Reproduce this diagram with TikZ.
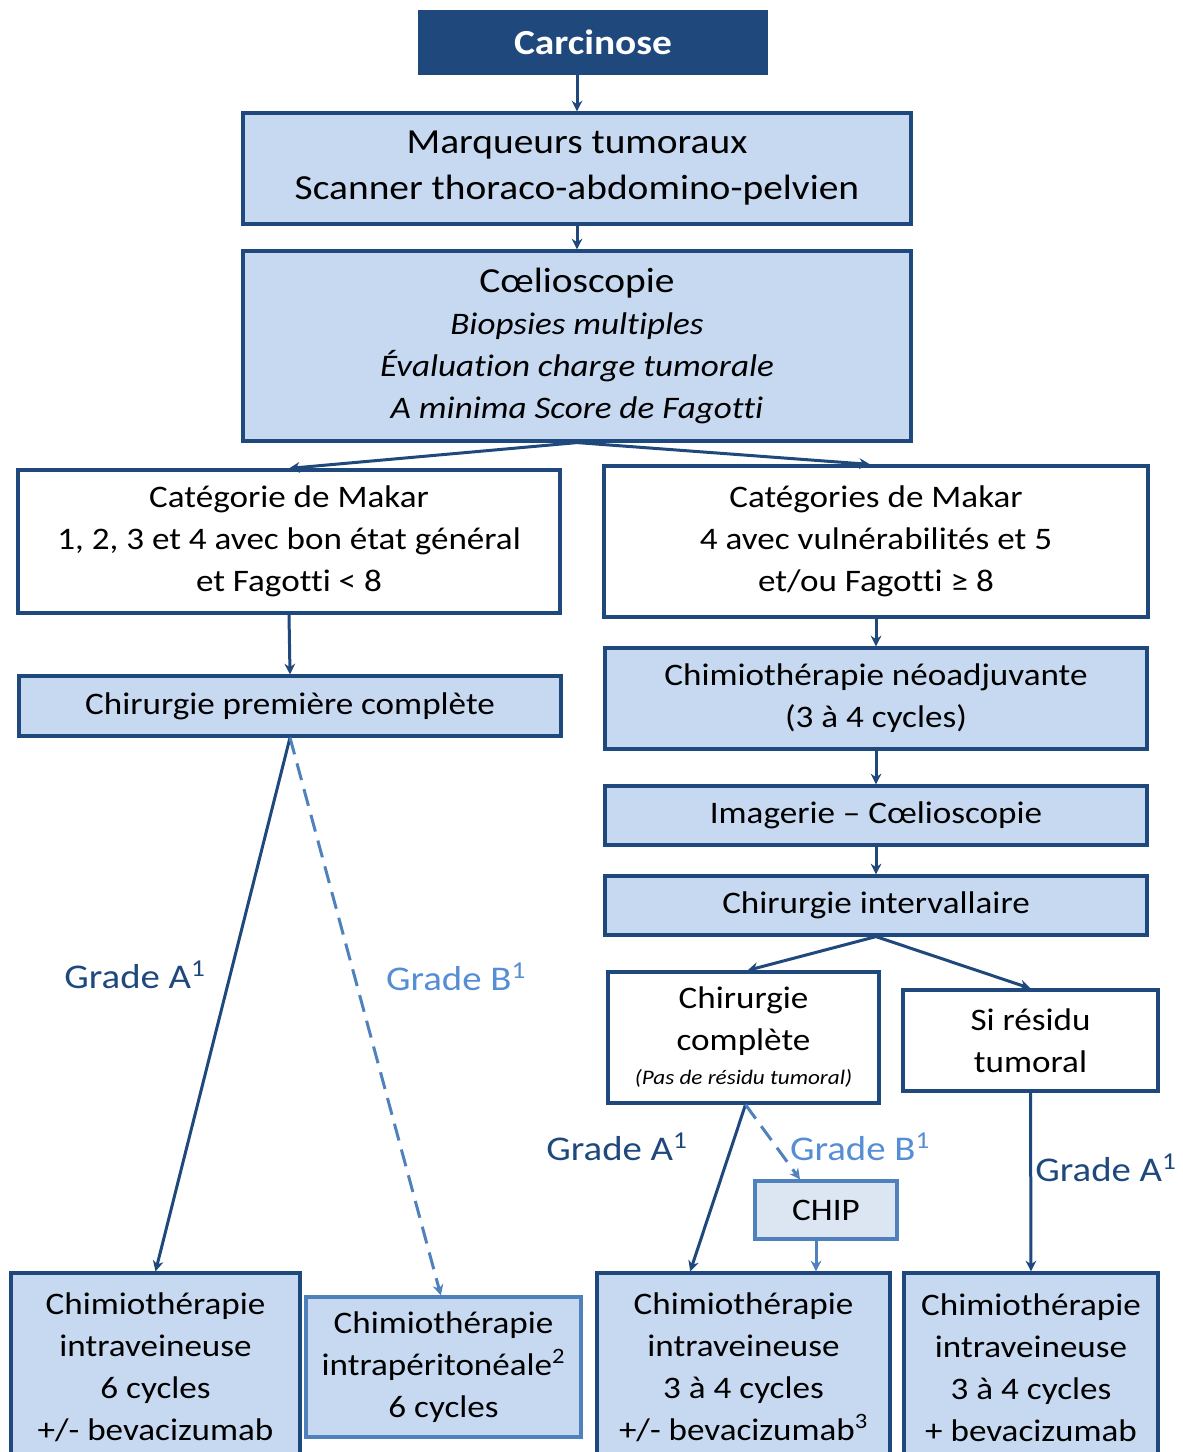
\documentclass[tikz,border=0pt]{standalone}
\usepackage{fontspec}
\setmainfont{Carlito}[FakeStretch=1.12, Ligatures=NoCommon]
\usetikzlibrary{arrows.meta,calc}
\definecolor{dk}{HTML}{1F497D}
\definecolor{lt}{HTML}{C6D9F1}
\definecolor{md}{HTML}{558ED5}
\definecolor{mdline}{HTML}{4F81BD}
\definecolor{chipfill}{HTML}{DCE6F2}
\newcommand\mybox[7]{\node[#6, minimum width={(#4-#2)*0.75pt}, minimum height={(#5-#3)*0.75pt}] (#1) at ({(#2+#4)/2},{(#3+#5)/2}) {#7};}
\begin{document}
\begin{tikzpicture}[x=0.75pt,y=-0.75pt,
  base/.style={draw=dk, line width=2.4pt, inner sep=0pt, align=center, text=black},
  filled/.style={base, fill=lt},
  plain/.style={base, fill=white},
  fbig/.style={font=\fontsize{26.4}{34.5}\selectfont},
  fmid/.style={font=\fontsize{23.5}{31.5}\selectfont},
  arr/.style={draw=dk, line width=2.25pt, -{Stealth[length=8pt,width=8pt]}},
  darr/.style={draw=mdline, line width=2.25pt, dash pattern=on 13pt off 7pt, -{Stealth[length=8pt,width=8pt,open]}},
  gA/.style={text=dk, font=\fontsize{26}{30}\selectfont, inner sep=0pt},
  gB/.style={text=md, font=\fontsize{26}{30}\selectfont, inner sep=0pt}
]
\useasboundingbox (0,0) rectangle (1182,1452);
\clip (0,0) rectangle (1182,1452);
\fill[white] (0,0) rectangle (1182,1452);

\mybox{carc}{420}{12}{766}{73}{base, fill=dk, text=white, font=\fontsize{26.4}{30}\selectfont\bfseries}{Carcinose}
\mybox{marq}{243}{113}{911}{224}{filled, fbig}{Marqueurs tumoraux\\Scanner thoraco-abdomino-pelvien}
\mybox{coel}{243}{251}{911}{441}{filled, fmid}{{\fontsize{26.4}{34.5}\selectfont Cœlioscopie}\\\itshape Biopsies multiples\\\itshape Évaluation charge tumorale\\\itshape A minima Score de Fagotti}
\mybox{catL}{18}{470}{560}{613}{plain, fmid}{Catégorie de Makar\\1, 2, 3 et 4 avec bon état général\\et Fagotti < 8}
\mybox{catR}{604}{466}{1148}{617}{plain, fmid}{Catégories de Makar\\4 avec vulnérabilités et 5\\et/ou Fagotti ≥ 8}
\mybox{cpc}{19}{676}{561}{736}{filled, fmid}{Chirurgie première complète}
\mybox{neo}{605}{648}{1147}{749}{filled, fmid}{Chimiothérapie néoadjuvante\\(3 à 4 cycles)}
\mybox{img}{605}{786}{1147}{845}{filled, fmid}{Imagerie – Cœlioscopie}
\mybox{cint}{605}{876}{1147}{935}{filled, fmid}{Chirurgie intervallaire}
\mybox{ccomp}{608}{972}{879}{1103}{plain, fmid}{Chirurgie\\complète\\[-6pt]{\fontsize{15.5}{18}\selectfont\itshape (Pas de résidu tumoral)}}
\mybox{resid}{903}{990}{1158}{1091}{plain, fmid}{Si résidu\\tumoral}
\mybox{chip}{755}{1181}{897}{1239}{base, draw=mdline, fill=chipfill, fmid}{CHIP}
\mybox{b1}{11}{1273}{300}{1462}{filled, fmid}{Chimiothérapie\\intraveineuse\\6 cycles\\+/- bevacizumab}
\mybox{b2}{306}{1297}{581}{1437}{base, draw=mdline, fill=lt, fmid}{Chimiothérapie\\intrapéritonéale\textsuperscript{2}\\6 cycles}
\mybox{b3}{597}{1273}{890}{1462}{filled, fmid}{Chimiothérapie\\intraveineuse\\3 à 4 cycles\\+/- bevacizumab\textsuperscript{3}}
\mybox{b4}{904}{1273}{1158}{1462}{filled, fmid}{Chimiothérapie\\intraveineuse\\3 à 4 cycles\\+ bevacizumab}

\draw[arr] (carc.south -| marq.north) -- (marq.north);
\draw[arr] (marq.south) -- (coel.north);
\draw[arr] (coel.south) -- (catL.north);
\draw[arr] (coel.south) -- ([xshift=-4.5pt]catR.north);
\draw[arr] (catL.south) -- (cpc.north);
\draw[arr] (catR.south) -- (neo.north);
\draw[arr] (neo.south) -- (img.north);
\draw[arr] (img.south) -- (cint.north);
\draw[arr] (cint.south) -- ([xshift=3pt]ccomp.north);
\draw[arr] (cint.south) -- (resid.north);
\draw[arr] (cpc.south) -- (b1.north);
\draw[darr] (cpc.south) -- ([xshift=-2pt]b2.north);
\draw[arr] ([xshift=1.5pt]ccomp.south) -- ([xshift=-40pt]b3.north);
\draw[darr] ([xshift=1.5pt]ccomp.south) -- ([xshift=-19.5pt]chip.north);
\draw[arr, draw=mdline] ([xshift=-7.5pt]chip.south) -- (b3.north -| {$(chip.south)+(-7.5pt,0)$});
\draw[arr] (resid.south) -- (b4.north);

\node[gA] (ga1) at (135,975) {Grade A\textsuperscript{1}};
\node[gB] (gb1) at (456,977) {Grade B\textsuperscript{1}};
\node[gA] (ga2) at (617,1147) {Grade A\textsuperscript{1}};
\node[gB] (gb2) at (860,1147) {Grade B\textsuperscript{1}};
\node[gA] (ga3) at (1106,1168) {Grade A\textsuperscript{1}};
\end{tikzpicture}
\end{document}
